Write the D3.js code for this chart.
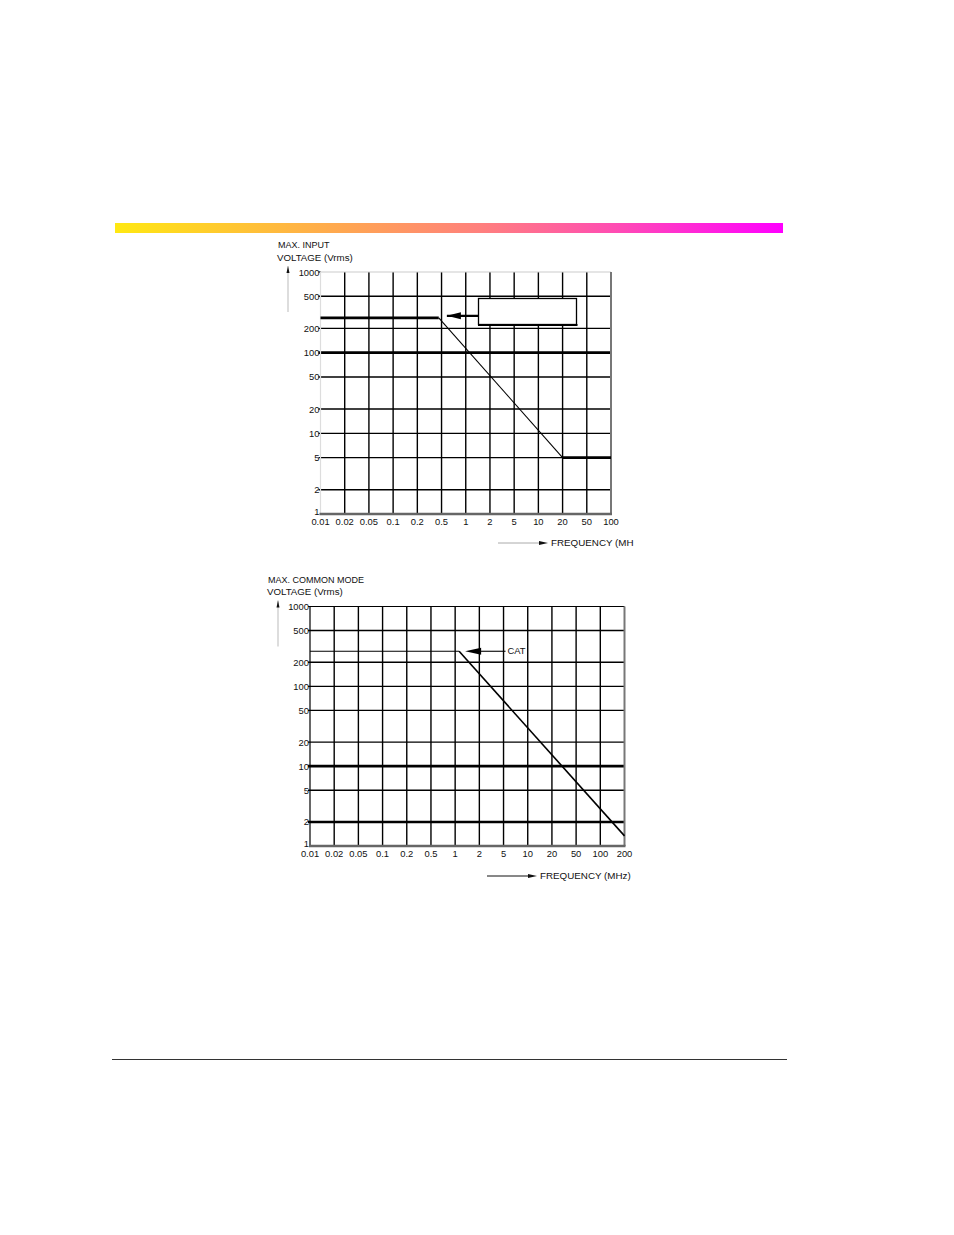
<!DOCTYPE html>
<html>
<head>
<meta charset="utf-8">
<script src="https://cdn.jsdelivr.net/npm/d3@7"></script>
<style>
  html, body { margin: 0; padding: 0; background: #fff; }
  svg { display: block; }
  text { font-family: "Liberation Sans", Arial, sans-serif; fill: #111; }
</style>
</head>
<body>
<svg id="page" width="954" height="1235"></svg>
<script>
// ---------- data ----------
const yTicks = [1000, 500, 200, 100, 50, 20, 10, 5, 2, 1];
const yTickLabels = ["1000", "500", "200", "100", "50", "20", "10", "5", "2", "1"];

const xTicksTop = [0.01, 0.02, 0.05, 0.1, 0.2, 0.5, 1, 2, 5, 10, 20, 50, 100];
const xTickLabelsTop = ["0.01", "0.02", "0.05", "0.1", "0.2", "0.5", "1", "2", "5", "10", "20", "50", "100"];
// max input voltage curve (MHz, Vrms)
const topCurveFreq = [0.01, 0.45, 20, 100];
const topCurveVolt = [270, 270, 5, 5];

const xTicksBot = [0.01, 0.02, 0.05, 0.1, 0.2, 0.5, 1, 2, 5, 10, 20, 50, 100, 200];
const xTickLabelsBot = ["0.01", "0.02", "0.05", "0.1", "0.2", "0.5", "1", "2", "5", "10", "20", "50", "100", "200"];
// max common mode voltage curve (MHz, Vrms)
const botLevelFreq = [0.01, 1.12];
const botLevelVolt = [275, 275];
const botSlopeFreq = [1.12, 200];
const botSlopeVolt = [275, 1.34];

const topTitle = ["MAX. INPUT", "VOLTAGE (Vrms)"];
const botTitle = ["MAX. COMMON MODE", "VOLTAGE (Vrms)"];
const topXTitle = "FREQUENCY (MH";
const botXTitle = "FREQUENCY (MHz)";
const catLabel = "CAT";

// heavier horizontal grid lines
const topHeavyY = [100];
const botHeavyY = [10, 2];

// ---------- drawing ----------
const svg = d3.select("#page");

// gradient banner
const defs = svg.append("defs");
const grad = defs.append("linearGradient").attr("id", "band").attr("x1", "0%").attr("x2", "100%");
[["0%", "#ffe812"], ["35%", "#ffa552"], ["55%", "#ff7f7e"], ["75%", "#ff4cb3"], ["100%", "#ff00ff"]]
  .forEach(([o, c]) => grad.append("stop").attr("offset", o).attr("stop-color", c));
svg.append("rect").attr("x", 115).attr("y", 223).attr("width", 668).attr("height", 10).attr("fill", "url(#band)");

// bottom rule
svg.append("line").attr("x1", 112).attr("x2", 787).attr("y1", 1059.5).attr("y2", 1059.5)
  .attr("stroke", "#333").attr("stroke-width", 1);

function makeX(ticks, left, right) {
  const step = (right - left) / (ticks.length - 1);
  return d3.scaleLinear()
    .domain(ticks.map(Math.log10))
    .range(ticks.map((d, i) => left + i * step));
}

function drawChart(cfg) {
  const g = svg.append("g");
  const xl = makeX(cfg.xTicks, cfg.left, cfg.right);
  const x = v => xl(Math.log10(v));
  const y = d3.scaleLog().domain([1, 1000]).range([cfg.bottom, cfg.top]);

  // horizontal grid lines
  cfg.yTicks.forEach((t) => {
    if (t === 1 || t === 1000) return;
    const heavy = cfg.heavyY.includes(t);
    g.append("line").attr("x1", cfg.left - 2).attr("x2", cfg.right)
      .attr("y1", y(t)).attr("y2", y(t))
      .attr("stroke", "#000").attr("stroke-width", heavy ? 2.6 : 1.4);
  });
  // vertical grid lines
  cfg.xTicks.forEach((t, i) => {
    if (i === 0 || i === cfg.xTicks.length - 1) return;
    g.append("line").attr("x1", x(t)).attr("x2", x(t))
      .attr("y1", cfg.top).attr("y2", cfg.bottom)
      .attr("stroke", "#000").attr("stroke-width", 1.4);
  });
  // frame
  g.append("line").attr("x1", cfg.left).attr("x2", cfg.right).attr("y1", cfg.top).attr("y2", cfg.top)
    .attr("stroke", cfg.topStroke).attr("stroke-width", 1.2);
  g.append("line").attr("x1", cfg.left - 2).attr("x2", cfg.left).attr("y1", cfg.top).attr("y2", cfg.top)
    .attr("stroke", "#000").attr("stroke-width", 1.2);
  g.append("line").attr("x1", cfg.left).attr("x2", cfg.left).attr("y1", cfg.top).attr("y2", cfg.bottom)
    .attr("stroke", cfg.leftStroke).attr("stroke-width", 1.2);
  g.append("line").attr("x1", cfg.right).attr("x2", cfg.right).attr("y1", cfg.top).attr("y2", cfg.bottom)
    .attr("stroke", "#777").attr("stroke-width", 2);
  g.append("line").attr("x1", cfg.left - 1).attr("x2", cfg.right + 1).attr("y1", cfg.bottom).attr("y2", cfg.bottom)
    .attr("stroke", "#666").attr("stroke-width", 2.4);

  // y tick labels
  cfg.yTicks.forEach((t, i) => {
    g.append("text").attr("x", cfg.left - 1).attr("y", y(t) + (t === 1 ? 0.5 : 3.5))
      .attr("text-anchor", "end").attr("font-size", 9.4).text(cfg.yLabels[i]);
  });
  // x tick labels
  cfg.xTicks.forEach((t, i) => {
    g.append("text").attr("x", x(t)).attr("y", cfg.bottom + 10.5)
      .attr("text-anchor", "middle").attr("font-size", 9.4).text(cfg.xLabels[i]);
  });

  // titles
  g.append("text").attr("x", cfg.titleX).attr("y", cfg.top - 24).attr("font-size", 9).text(cfg.title[0]);
  g.append("text").attr("x", cfg.titleX - 1).attr("y", cfg.top - 11.5).attr("font-size", 9.7).text(cfg.title[1]);
  // up arrow
  g.append("line").attr("x1", cfg.titleX + 10).attr("x2", cfg.titleX + 10)
    .attr("y1", cfg.top + 40).attr("y2", cfg.top - 6)
    .attr("stroke", "#bbb").attr("stroke-width", 1);
  g.append("path").attr("d", `M${cfg.titleX + 8.5},${cfg.top + 1} L${cfg.titleX + 10},${cfg.top - 6} L${cfg.titleX + 11.5},${cfg.top + 1} Z`)
    .attr("fill", "#111");

  // x title with arrow
  g.append("line").attr("x1", cfg.xTitleX - 53).attr("x2", cfg.xTitleX - 8)
    .attr("y1", cfg.xTitleY - 3).attr("y2", cfg.xTitleY - 3)
    .attr("stroke", cfg.xArrowStroke).attr("stroke-width", 1);
  g.append("path").attr("d", `M${cfg.xTitleX - 12},${cfg.xTitleY - 5} L${cfg.xTitleX - 3},${cfg.xTitleY - 3} L${cfg.xTitleX - 12},${cfg.xTitleY - 1} Z`)
    .attr("fill", "#111");
  g.append("text").attr("x", cfg.xTitleX).attr("y", cfg.xTitleY).attr("font-size", 9.8).text(cfg.xTitle);

  return { g, x, y };
}

// ---- top chart ----
const T = drawChart({
  xTicks: xTicksTop, xLabels: xTickLabelsTop, yTicks, yLabels: yTickLabels,
  left: 320.5, right: 611, top: 272, bottom: 514, heavyY: topHeavyY,
  topStroke: "#ccc", leftStroke: "#ddd",
  title: topTitle, titleX: 278, xTitle: topXTitle, xTitleX: 551, xTitleY: 546, xArrowStroke: "#aaa"
});
const lineGen = (xs, ys) => d3.line().x(d => xs(d[0])).y(d => ys(d[1]));
const topPts = topCurveFreq.map((f, i) => [f, topCurveVolt[i]]);
T.g.append("path").attr("d", lineGen(T.x, T.y)(topPts.slice(0, 2))).attr("stroke", "#000").attr("stroke-width", 2.6).attr("fill", "none");
T.g.append("path").attr("d", lineGen(T.x, T.y)(topPts.slice(1, 3))).attr("stroke", "#000").attr("stroke-width", 1.1).attr("fill", "none");
T.g.append("path").attr("d", lineGen(T.x, T.y)(topPts.slice(2, 4))).attr("stroke", "#000").attr("stroke-width", 2.6).attr("fill", "none");
// arrow pointing to the curve
const topArrowY = T.y(topCurveVolt[0]) - 2;
T.g.append("line").attr("x1", T.x(1.5) + 2).attr("x2", T.x(0.55) + 2).attr("y1", topArrowY).attr("y2", topArrowY)
  .attr("stroke", "#000").attr("stroke-width", 2.4);
T.g.append("path").attr("d", `M${T.x(0.55) + 2},${topArrowY} L${T.x(0.55) + 16},${topArrowY - 3.5} L${T.x(0.55) + 16},${topArrowY + 3.5} Z`).attr("fill", "#000");
// empty label box
T.g.append("rect").attr("x", 478.5).attr("y", 298.5).attr("width", 98).attr("height", 26)
  .attr("fill", "#fff").attr("stroke", "#000").attr("stroke-width", 1.3);
T.g.append("line").attr("x1", 478).attr("x2", 577.5).attr("y1", 325).attr("y2", 325).attr("stroke", "#000").attr("stroke-width", 2);

// ---- bottom chart ----
const B = drawChart({
  xTicks: xTicksBot, xLabels: xTickLabelsBot, yTicks, yLabels: yTickLabels,
  left: 310, right: 624.5, top: 606.5, bottom: 846, heavyY: botHeavyY,
  topStroke: "#000", leftStroke: "#000",
  title: botTitle, titleX: 268, xTitle: botXTitle, xTitleX: 540, xTitleY: 879, xArrowStroke: "#111"
});
B.g.append("path").attr("d", lineGen(B.x, B.y)(botLevelFreq.map((f, i) => [f, botLevelVolt[i]])))
  .attr("stroke", "#000").attr("stroke-width", 1.1).attr("fill", "none");
B.g.append("path").attr("d", lineGen(B.x, B.y)(botSlopeFreq.map((f, i) => [f, botSlopeVolt[i]])))
  .attr("stroke", "#000").attr("stroke-width", 1.6).attr("fill", "none");
const catY = B.y(botLevelVolt[0]);
const catX0 = B.x(5) + 2, catTip = B.x(1.12) + 6;
B.g.append("line").attr("x1", catX0).attr("x2", catTip + 10).attr("y1", catY).attr("y2", catY)
  .attr("stroke", "#000").attr("stroke-width", 1.1);
B.g.append("path").attr("d", `M${catTip},${catY} L${catTip + 16},${catY - 3.5} L${catTip + 16},${catY + 3.5} Z`).attr("fill", "#000");
B.g.append("text").attr("x", catX0 + 2).attr("y", catY + 3).attr("font-size", 9.4).text(catLabel);
</script>
</body>
</html>
